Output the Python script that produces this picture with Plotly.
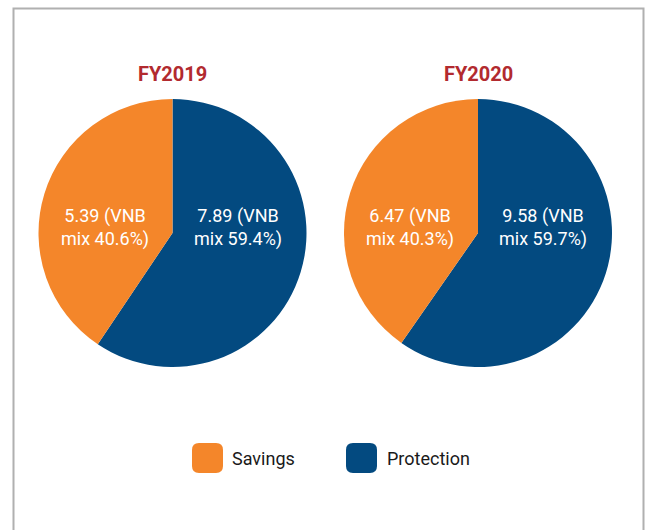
import plotly.graph_objects as go

W, H = 645, 530

years = ["FY2019", "FY2020"]
categories = ["Savings", "Protection"]
values_2019 = [5.39, 7.89]
values_2020 = [6.47, 9.58]
mix_2019 = [40.6, 59.4]
mix_2020 = [40.3, 59.7]

colors = ["#F4862A", "#034A80"]
title_color = "#B22A2F"
FONT = "Roboto, 'Liberation Sans', sans-serif"


def px_x(p):
    return p / W


def px_y(p):
    return 1 - p / H


fig = go.Figure()

pies = [
    (values_2019, mix_2019, 172.5),
    (values_2020, mix_2020, 478),
]
R = 134
CY = 233
annotations = []
for vals, mix, cx in pies:
    # Protection drawn first, clockwise from 12 o'clock (right side); Savings fills the left
    fig.add_trace(go.Pie(
        labels=categories[::-1],
        values=vals[::-1],
        textinfo="none",
        sort=False,
        direction="clockwise",
        rotation=0,
        marker=dict(colors=colors[::-1], line=dict(width=0)),
        hoverinfo="label+value",
        domain=dict(x=[px_x(cx - R), px_x(cx + R)], y=[px_y(CY + R), px_y(CY - R)]),
        showlegend=False,
    ))
    for v, m, dx in zip(vals, mix, [-68, 65]):
        annotations.append(dict(
            x=px_x(cx + dx), y=px_y(CY - 6), xref="paper", yref="paper",
            text=f"{v:.2f} (VNB<br>mix {m:.1f}%)", showarrow=False,
            xanchor="center", yanchor="middle", align="center",
            font=dict(family=FONT, size=18, color="white"),
        ))

for yr, cx in zip(years, [172.5, 478]):
    annotations.append(dict(
        x=px_x(cx), y=px_y(74), xref="paper", yref="paper",
        text=f"<b>{yr}</b>", showarrow=False,
        font=dict(family=FONT, size=20, color=title_color),
        xanchor="center", yanchor="middle",
    ))

shapes = [
    dict(type="rect", xref="paper", yref="paper",
         x0=px_x(13.5), x1=px_x(643.5), y0=-0.05, y1=px_y(8.5),
         line=dict(color="#B0B0B0", width=2), fillcolor="rgba(0,0,0,0)", layer="below"),
]


def rounded_rect(x0, y0, x1, y1, r):
    def P(x, y):
        return f"{px_x(x)},{px_y(y)}"
    return (f"M {P(x0 + r, y0)} L {P(x1 - r, y0)} Q {P(x1, y0)} {P(x1, y0 + r)} "
            f"L {P(x1, y1 - r)} Q {P(x1, y1)} {P(x1 - r, y1)} "
            f"L {P(x0 + r, y1)} Q {P(x0, y1)} {P(x0, y1 - r)} "
            f"L {P(x0, y0 + r)} Q {P(x0, y0)} {P(x0 + r, y0)} Z")


legend_pos = [(192, 230), (346, 385)]
for cat, col, (sx, tx) in zip(categories, colors, legend_pos):
    shapes.append(dict(type="path", xref="paper", yref="paper",
                       path=rounded_rect(sx, 443, sx + 31, 473, 7),
                       fillcolor=col, line=dict(width=0)))
    annotations.append(dict(
        x=px_x(tx), y=px_y(458.5), xref="paper", yref="paper",
        text=cat, showarrow=False, xanchor="left", yanchor="middle",
        font=dict(family=FONT, size=18, color="#1a1a1a"),
    ))

fig.update_layout(
    width=W, height=H,
    margin=dict(l=0, r=0, t=0, b=0),
    paper_bgcolor="white",
    plot_bgcolor="white",
    annotations=annotations,
    shapes=shapes,
    showlegend=False,
)

fig.write_html(
    "out.html",
    config={"displayModeBar": False},
    post_script="document.body.style.margin='0';document.body.style.overflow='hidden';"
                "document.documentElement.style.overflow='hidden';",
)
